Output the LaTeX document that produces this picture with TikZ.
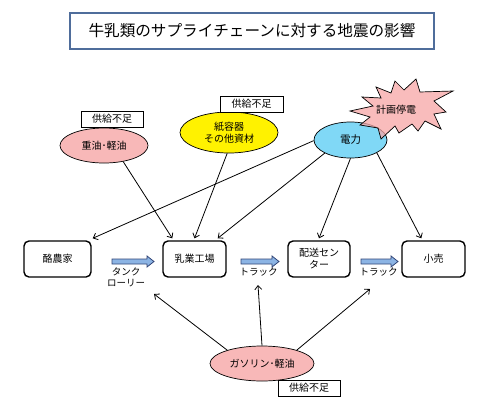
\documentclass[tikz,border=0pt]{standalone}
\usepackage{fontspec}
\setmainfont{Noto Sans CJK JP}
\usetikzlibrary{shapes.geometric,arrows.meta,calc}
\definecolor{pinkfill}{RGB}{248,184,184}
\definecolor{starpink}{RGB}{247,166,166}
\definecolor{elecblue}{RGB}{128,216,246}
\definecolor{titleblue}{RGB}{79,109,155}
\definecolor{fatfill}{RGB}{140,180,228}
\definecolor{fatline}{RGB}{50,70,120}
\newcommand\fatarrowdraw[3]{%
  \draw[fat] (#1,#3-2.5) -- (#2-7,#3-2.5) -- (#2-7,#3-5.5) -- (#2,#3) -- (#2-7,#3+5.5) -- (#2-7,#3+2.5) -- (#1,#3+2.5) -- cycle;}
\begin{document}
\begin{tikzpicture}[x=1pt,y=-1pt,
  every node/.style={font=\fontsize{10}{12}\selectfont},
  stagebox/.style={draw,line width=1.4pt,rounded corners=5pt,minimum width=63pt,minimum height=36pt,inner sep=0pt,align=center},
  ell/.style={ellipse,draw,line width=0.7pt,inner sep=0pt,align=center},
  tagbox/.style={draw,line width=0.7pt,fill=white,minimum width=62pt,minimum height=16pt,inner sep=0pt},
  arr/.style={line width=0.8pt,-{Straight Barb[length=4pt,width=7pt]}},
  fat/.style={draw=fatline,fill=fatfill,line width=0.8pt},
  lbl/.style={inner sep=0pt,align=center,font=\fontsize{9.5}{11.5}\selectfont}]
\useasboundingbox[fill=white] (0,0) rectangle (500,408);

\node[draw=titleblue,line width=1.3pt,minimum width=364pt,minimum height=36pt,inner sep=0pt,
      font=\fontsize{15.6}{18}\selectfont] (title) at (252,31) {牛乳類のサプライチェーンに対する地震の影響};

% stages
\node[stagebox,minimum width=67pt] (rakuno) at (57.5,259) {酪農家};
\node[stagebox] (factory) at (194.5,259) {乳業工場};
\node[stagebox,minimum width=62pt] (dist) at (319,259) {配送セン\\ター};
\node[stagebox] (retail) at (433.5,259) {小売};

% resources
\node[ell,fill=pinkfill,minimum width=88pt,minimum height=35pt] (heavy) at (104,145.5) {重油･軽油};
\node[ell,fill=yellow,minimum width=98pt,minimum height=41pt] (paper) at (229,132.5) {紙容器\\その他資材};
\node[ell,fill=elecblue,minimum width=73pt,minimum height=36pt,font=\fontsize{10.5}{12}\selectfont] (denryoku) at (350.5,140) {電力};
\node[ell,fill=pinkfill,minimum width=104pt,minimum height=35pt] (gas) at (262,363.5) {ガソリン･軽油};

% starburst
\draw[line width=0.7pt,fill=starpink,fill opacity=0.75]
  (416,79) -- (420,92) -- (453,91) -- (434,101) -- (446,112) -- (434,114) -- (441,129)
  -- (425,121) -- (418,131) -- (412,124) -- (399,133) -- (395,126) -- (381,139) -- (378,128)
  -- (360,125) -- (370,117) -- (350,111) -- (373,106) -- (362,97) -- (381,98)
  -- (376,87) -- (391,93) -- (395,81) -- (404,90) -- cycle;
\node (keikaku) at (396,110) {計画停電};

% tags
\node[tagbox] (tag1) at (112,119) {供給不足};
\node[tagbox,minimum width=63pt] (tag2) at (251.5,104) {供給不足};
\node[tagbox] (tag3) at (309,388) {供給不足};

% fat arrows
\fatarrowdraw{112}{154}{261.5}
\fatarrowdraw{241}{279}{261.5}
\fatarrowdraw{361}{398}{261.5}

% transport labels
\node[lbl] (tank) at (126,277.5) {タンク\\ローリー};
\node[lbl] (truck1) at (258.5,272) {トラック};
\node[lbl] (truck2) at (378.5,272) {トラック};

% free ends
\coordinate (g1) at (154,294);
\coordinate (g2) at (258,285);
\coordinate (g3) at (370,289);

% connectors
\draw[arr] (heavy.-40) -- ([xshift=10pt,yshift=2pt]factory.north west);
\draw[arr] (paper.-95) -- ([yshift=2pt]factory.north);
\draw[arr] (denryoku.181) -- ([xshift=1pt,yshift=2pt]rakuno.north east);
\draw[arr] (denryoku.207) -- ([xshift=-9pt,yshift=2pt]factory.north east);
\draw[arr] (denryoku.south) -- ([yshift=2pt]dist.north);
\draw[arr] (denryoku.-26) -- ([xshift=20pt,yshift=2pt]retail.north west);
\draw[arr] (gas.159) -- (g1);
\draw[arr] (gas.north) -- (g2);
\draw[arr] (gas.21) -- (g3);
\end{tikzpicture}
\end{document}
